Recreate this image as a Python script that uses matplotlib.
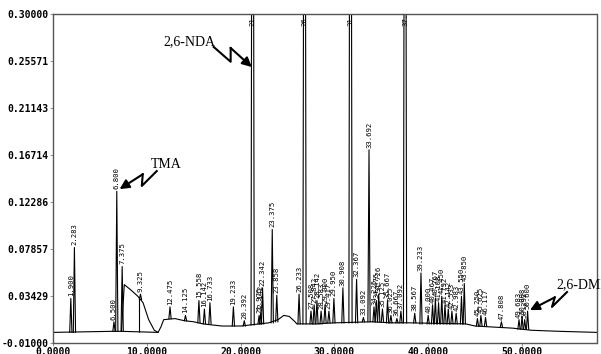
import matplotlib
matplotlib.use("Agg")
import matplotlib.pyplot as plt
import numpy as np

# ---- data ----
# baseline / hump (time in min, absorbance)
base_t = [0.0, 6.3, 7.3, 7.6, 8.3, 9.05, 9.6, 10.2, 10.8, 11.2, 11.5, 11.8, 13.0, 14.0,
          15.0, 16.0, 17.0, 18.0, 20.0, 22.0, 23.0, 24.0, 24.6, 25.2, 25.8, 26.0, 28.0,
          30.0, 34.0, 36.0, 38.0, 44.0, 45.0, 47.0, 49.0, 51.0, 54.0, 58.0]
base_v = [0.0, 0.001, 0.001, 0.045, 0.040, 0.034, 0.028, 0.012, 0.002, 0.0, 0.005, 0.012,
          0.013, 0.011, 0.010, 0.008, 0.007, 0.006, 0.006, 0.008, 0.009, 0.012, 0.016,
          0.015, 0.010, 0.008, 0.008, 0.009, 0.010, 0.009, 0.009, 0.008, 0.006, 0.005,
          0.004, 0.002, 0.001, 0.0]

# integrator baseline under the hump and drop line
integ_t = [7.3, 11.2]
integ_v = [0.001, 0.0]
drop_t = 9.12
drop_v = 0.033

# peaks: retention time, apex height, base level
peak_rt = [1.900, 2.283, 6.500, 6.800, 7.375, 9.325, 12.475, 14.125, 15.558, 16.142,
           16.733, 19.233, 20.392, 21.283, 21.975, 22.142, 22.342, 23.375, 23.858,
           26.233, 26.817, 27.508, 27.842, 28.142, 28.583, 29.000, 29.417, 29.950,
           30.908, 31.717, 32.367, 33.092, 33.692, 34.225, 34.475, 34.726, 35.125,
           35.667, 36.025, 36.667, 37.092, 37.533, 38.567, 39.233, 40.000, 40.467,
           40.767, 41.108, 41.450, 41.792, 42.142, 42.533, 42.983, 43.550, 43.850,
           45.250, 45.625, 46.117, 47.808, 49.683, 50.008, 50.292, 50.600]
peak_top = [0.032, 0.080, 0.010, 0.133, 0.062, 0.036, 0.024, 0.016, 0.030, 0.022,
            0.028, 0.024, 0.011, 0.900, 0.016, 0.018, 0.042, 0.097, 0.035,
            0.036, 0.900, 0.020, 0.026, 0.030, 0.020, 0.026, 0.020, 0.032,
            0.042, 0.900, 0.050, 0.014, 0.172, 0.024, 0.030, 0.036, 0.022,
            0.030, 0.016, 0.013, 0.020, 0.900, 0.018, 0.056, 0.016, 0.026,
            0.032, 0.028, 0.034, 0.026, 0.022, 0.020, 0.018, 0.034, 0.046,
            0.013, 0.016, 0.014, 0.010, 0.012, 0.015, 0.012, 0.020]
peak_base = [0.0, 0.0, 0.001, 0.001, 0.001, 0.031, 0.013, 0.011, 0.009, 0.008,
             0.008, 0.006, 0.006, 0.007, 0.008, 0.008, 0.008, 0.009, 0.010,
             0.008, 0.008, 0.008, 0.008, 0.008, 0.008, 0.009, 0.009, 0.009,
             0.009, 0.009, 0.009, 0.010, 0.010, 0.010, 0.010, 0.010, 0.010,
             0.009, 0.009, 0.009, 0.009, 0.009, 0.009, 0.008, 0.008, 0.008,
             0.008, 0.008, 0.008, 0.008, 0.008, 0.008, 0.008, 0.008, 0.008,
             0.006, 0.006, 0.006, 0.005, 0.003, 0.003, 0.003, 0.003]

x_ticks = [0, 10, 20, 30, 40, 50]
y_ticks = np.linspace(-0.01, 0.30, 8)

# compound annotations: text position and zigzag arrow vertices
notes = {
    "TMA":     {"xy": (10.4, 0.158), "zz": [(11.06, 0.152), (9.47, 0.138), (9.57, 0.149), (7.1, 0.135)]},
    "2,6-NDA": {"xy": (11.8, 0.274), "zz": [(17.13, 0.269), (18.94, 0.255), (18.94, 0.268), (21.2, 0.250)]},
    "2,6-DMN": {"xy": (53.7, 0.045), "zz": [(54.8, 0.038), (53.2, 0.024), (53.5, 0.033), (50.85, 0.021)]},
}

# ---- figure ----
fig = plt.figure(figsize=(6.01, 3.54), dpi=100)
ax = fig.add_axes([53/601, 11/354, 544/601, 329/354])

lw = 0.8
ax.plot(base_t, base_v, color='black', lw=lw)
ax.plot(integ_t, integ_v, color='black', lw=lw)
ax.vlines(drop_t, 0.0, drop_v, color='black', lw=lw)

for rt, top, b in zip(peak_rt, peak_top, peak_base):
    hw = 0.17 if top > 0.3 else 0.12
    ax.plot([rt - hw, rt, rt + hw], [b, top, b], color='black', lw=lw)
    ly = 0.289 if top > 0.3 else top + 0.002
    ax.text(rt, ly, "%.3f" % rt, rotation=90, ha='center', va='bottom',
            fontsize=5.2, family='DejaVu Sans Mono', clip_on=True)

for name, n in notes.items():
    zx, zy = zip(*n["zz"])
    ax.plot(zx[:-1], zy[:-1], color='black', lw=1.5)
    ax.annotate("", xy=n["zz"][-1], xytext=n["zz"][-2],
                arrowprops=dict(arrowstyle='-|>', color='black', lw=1.5,
                                mutation_scale=14, shrinkA=0, shrinkB=0))
    ax.text(n["xy"][0], n["xy"][1], name, ha='left', va='center',
            fontsize=10, family='Liberation Serif', clip_on=False)

ax.set_xlim(0, 58)
ax.set_ylim(-0.01, 0.30)
ax.set_xticks(x_ticks)
ax.set_xticklabels(["%.4f" % v for v in x_ticks])
ax.set_yticks(y_ticks)
ax.set_yticklabels(["%.5f" % v for v in y_ticks])
for lab in ax.get_xticklabels() + ax.get_yticklabels():
    lab.set_family('DejaVu Sans Mono')
    lab.set_fontsize(7)
    lab.set_fontweight('bold')
ax.tick_params(length=2, width=0.6, color='gray', pad=1)

for sp in ax.spines.values():
    sp.set_linestyle((0, (1, 1)))
    sp.set_color('#555555')
    sp.set_linewidth(1.0)

plt.savefig("out.png", dpi=100)
